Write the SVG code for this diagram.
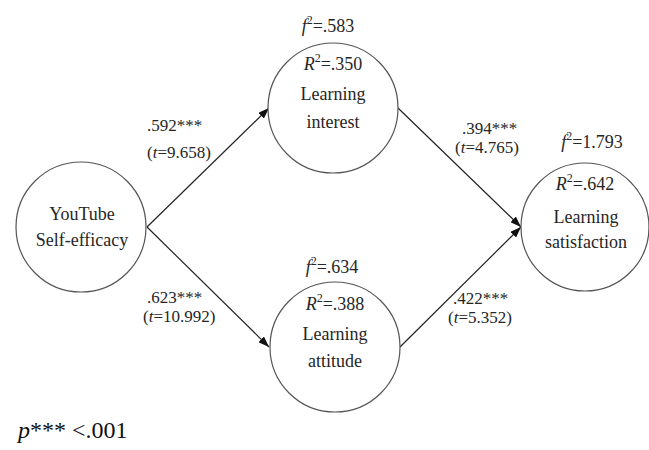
<svg xmlns="http://www.w3.org/2000/svg" width="649" height="450" viewBox="0 0 649 450" font-family="Liberation Serif, serif">
<defs>
<style>
.node{fill:#fff;stroke:#555;stroke-width:1.2}
.t{font-size:18px;fill:#262626;text-anchor:middle}
.lbl{font-size:17px;fill:#262626}
.conn{stroke:#222;stroke-width:1.2;fill:none;marker-end:url(#arr)}
.i{font-style:italic}
</style>
<marker id="arr" markerUnits="userSpaceOnUse" markerWidth="12" markerHeight="8" refX="11" refY="4" orient="auto">
<path d="M0,0 L11,4 L0,8 z" fill="#111"/>
</marker>
</defs>
<rect width="649" height="450" fill="#fff"/>
<g id="connectors" font-family="Liberation Serif, serif">
<line class="conn" x1="147" y1="227" x2="269" y2="108"/>
<line class="conn" x1="147" y1="227" x2="269" y2="347"/>
<line class="conn" x1="398" y1="108" x2="521" y2="227"/>
<line class="conn" x1="400" y1="347" x2="521" y2="227"/>
<text class="lbl" x="147" y="131">.592***</text>
<text class="lbl" x="147" y="158">(<tspan class="i">t</tspan>=9.658)</text>
<text class="lbl" x="147" y="303">.623***</text>
<text class="lbl" x="143" y="322">(<tspan class="i">t</tspan>=10.992)</text>
<text class="lbl" x="462" y="134">.394***</text>
<text class="lbl" x="455" y="153">(<tspan class="i">t</tspan>=4.765)</text>
<text class="lbl" x="453" y="304">.422***</text>
<text class="lbl" x="448" y="323">(<tspan class="i">t</tspan>=5.352)</text>
</g>
<g id="node-youtube" font-family="Liberation Serif, serif">
<circle class="node" cx="81" cy="227" r="65"/>
<text class="t" x="82" y="220">YouTube</text>
<text class="t" x="82" y="246">Self-efficacy</text>
</g>
<g id="node-interest" font-family="Liberation Serif, serif">
<circle class="node" cx="333" cy="108" r="65"/>
<text class="t" x="328" y="32"><tspan class="i">f</tspan><tspan dy="-8" font-size="12">2</tspan><tspan dy="8">=.583</tspan></text>
<text class="t" x="333" y="70"><tspan class="i">R</tspan><tspan dy="-8" font-size="12">2</tspan><tspan dy="8">=.350</tspan></text>
<text class="t" x="333" y="100">Learning</text>
<text class="t" x="333" y="128">interest</text>
</g>
<g id="node-attitude" font-family="Liberation Serif, serif">
<circle class="node" cx="335" cy="347" r="65"/>
<text class="t" x="332" y="273"><tspan class="i">f</tspan><tspan dy="-8" font-size="12">2</tspan><tspan dy="8">=.634</tspan></text>
<text class="t" x="335" y="310"><tspan class="i">R</tspan><tspan dy="-8" font-size="12">2</tspan><tspan dy="8">=.388</tspan></text>
<text class="t" x="335" y="340">Learning</text>
<text class="t" x="335" y="367">attitude</text>
</g>
<g id="node-satisfaction" font-family="Liberation Serif, serif">
<circle class="node" cx="585" cy="227" r="64"/>
<text class="t" x="592" y="148"><tspan class="i">f</tspan><tspan dy="-8" font-size="12">2</tspan><tspan dy="8">=1.793</tspan></text>
<text class="t" x="585" y="190"><tspan class="i">R</tspan><tspan dy="-8" font-size="12">2</tspan><tspan dy="8">=.642</tspan></text>
<text class="t" x="586" y="223">Learning</text>
<text class="t" x="586" y="248">satisfaction</text>
</g>
<text x="18" y="438" font-family="Liberation Serif, serif" font-size="24" fill="#111"><tspan class="i">p</tspan>*** &lt;.001</text>
</svg>
